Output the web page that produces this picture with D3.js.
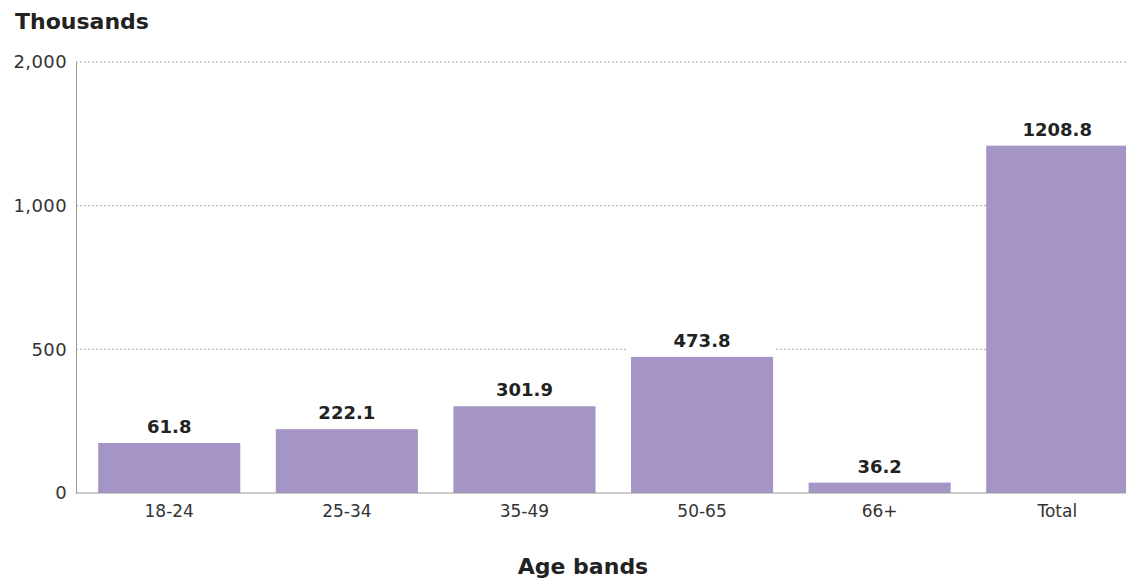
<!DOCTYPE html>
<html>
<head>
<meta charset="utf-8">
<script src="https://cdn.jsdelivr.net/npm/d3@7"></script>
<style>
  body { margin: 0; background: #fff; }
  svg { display: block; font-family: "DejaVu Sans", "Open Sans", sans-serif; }
</style>
</head>
<body>
<svg id="chart" width="1126" height="578"></svg>
<script>
// data
const categories = ['18-24', '25-34', '35-49', '50-65', '66+', 'Total'];
const barValues = [174, 222.1, 301.9, 473.8, 36.2, 1208.8];   // bar heights as drawn
const valueLabels = ['61.8', '222.1', '301.9', '473.8', '36.2', '1208.8'];
const yTickValues = [0, 500, 1000, 1500];
const yTickLabels = ['0', '500', '1,000', '2,000'];

const margin = { top: 62, right: 0, bottom: 85, left: 76 };
const width = 1126 - margin.left - margin.right;
const height = 578 - margin.top - margin.bottom;

const svg = d3.select('#chart');
const g = svg.append('g').attr('transform', `translate(${margin.left},${margin.top})`);

const x = d3.scaleBand()
    .domain(categories)
    .range([0, 177.6 * 6.05])
    .paddingInner(0.2)
    .paddingOuter(0.125);

const y = d3.scaleLinear().domain([0, 1500]).range([height, 0]);

// gridlines
g.append('g')
    .selectAll('line')
    .data(yTickValues.slice(1))
    .join('line')
    .attr('x1', 0).attr('x2', width)
    .attr('y1', d => y(d)).attr('y2', d => y(d))
    .attr('stroke', '#aaa')
    .attr('stroke-width', 1)
    .attr('stroke-dasharray', '2,2');

// y axis
const yAxis = g.append('g')
    .call(d3.axisLeft(y).tickValues(yTickValues)
        .tickFormat((d, i) => yTickLabels[i]).tickSize(0).tickPadding(9))
    .attr('font-family', null);
yAxis.select('.domain').attr('stroke', '#999');
yAxis.selectAll('text')
    .attr('font-size', 18).attr('fill', '#333').attr('font-weight', 400)
    .attr('letter-spacing', 0.4);

// label backgrounds + bars
const bars = g.append('g');
categories.forEach((c, i) => {
    bars.append('rect')
        .attr('x', x(c) - 3)
        .attr('y', y(barValues[i]) - 32)
        .attr('width', x.bandwidth() + 6)
        .attr('height', 32)
        .attr('fill', '#fff');
    bars.append('rect')
        .attr('x', x(c))
        .attr('y', y(barValues[i]))
        .attr('width', Math.min(x.bandwidth(), width - x(c)))
        .attr('height', height - y(barValues[i]))
        .attr('fill', '#a594c6');
    bars.append('text')
        .attr('x', x(c) + x.bandwidth() / 2)
        .attr('y', y(barValues[i]) - 10)
        .attr('text-anchor', 'middle')
        .attr('font-size', 18)
        .attr('font-weight', 700)
        .attr('fill', '#222')
        .text(valueLabels[i]);
});

// x axis
const xAxis = g.append('g')
    .attr('transform', `translate(0,${height})`)
    .call(d3.axisBottom(x).tickSize(0).tickPadding(12))
    .attr('font-family', null);
xAxis.select('.domain').attr('d', `M0,0H${width}`).attr('stroke', '#999');
xAxis.selectAll('text')
    .attr('font-size', 17).attr('fill', '#333').attr('font-weight', 400);

// titles
svg.append('text')
    .attr('x', 15).attr('y', 29)
    .attr('font-size', 22).attr('font-weight', 700).attr('fill', '#222')
    .text('Thousands');

svg.append('text')
    .attr('x', 583).attr('y', 574)
    .attr('text-anchor', 'middle')
    .attr('font-size', 22).attr('font-weight', 700).attr('fill', '#222')
    .text('Age bands');
</script>
</body>
</html>
